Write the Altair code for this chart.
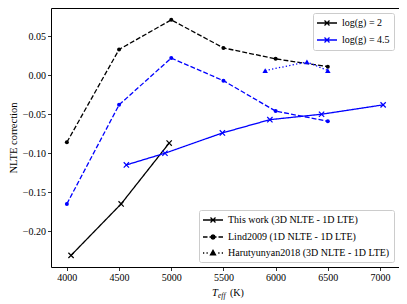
import altair as alt
import pandas as pd

# ---------------- data ----------------
this_T_g2 = [4040, 4520, 4980]
this_c_g2 = [-0.231, -0.165, -0.087]
this_T_g45 = [4570, 4940, 5490, 5945, 6440, 7030]
this_c_g45 = [-0.115, -0.100, -0.074, -0.057, -0.050, -0.038]

lind_T = [4000, 4500, 5000, 5500, 6000, 6500]
lind_c_g2 = [-0.086, 0.033, 0.071, 0.035, 0.021, 0.011]
lind_c_g45 = [-0.165, -0.038, 0.022, -0.007, -0.046, -0.059]

har_T_g45 = [5900, 6300, 6500]
har_c_g45 = [0.006, 0.017, 0.006]

G = ["log(g) = 2", "log(g) = 4.5"]
M = ["This work (3D NLTE - 1D LTE)", "Lind2009 (1D NLTE - 1D LTE)",
     "Harutyunyan2018 (3D NLTE - 1D LTE)"]

x_ticks = [4000, 4500, 5000, 5500, 6000, 6500, 7000]
y_ticks = [-0.20, -0.15, -0.10, -0.05, 0.00, 0.05]

rows = []
def add(T, c, g, m):
    for t, v in zip(T, c):
        rows.append({"T": t, "corr": v, "logg": g, "method": m, "source": m})

add(this_T_g2, this_c_g2, G[0], M[0])
add(this_T_g45, this_c_g45, G[1], M[0])
add(lind_T, lind_c_g2, G[0], M[1])
add(lind_T, lind_c_g45, G[1], M[1])
add(har_T_g45, har_c_g45, G[1], M[2])
df = pd.DataFrame(rows)

FONT = "Liberation Serif"
W, H = 348, 259

x = alt.X("T:Q", scale=alt.Scale(domain=[3848, 7182], nice=False, zero=False),
          axis=alt.Axis(values=x_ticks, format="d", title=None))
y = alt.Y("corr:Q", scale=alt.Scale(domain=[-0.2459, 0.0862], nice=False, zero=False),
          axis=alt.Axis(values=y_ticks, format=".2f", title="NLTE correction",
                        titleFont=FONT, titleFontSize=10.5, titleFontWeight="normal",
                        titlePadding=4))

X_PATH = "M-1,-1L1,1M-1,1L1,-1"
LEG_X = "M-2,0L2,0M-0.5,-0.5L0.5,0.5M-0.5,0.5L0.5,-0.5"
LEG_DASH = ("M-2,0L-1.1,0M-0.7,0L0.7,0M1.1,0L2,0"
            "M0.4,0L0.28,0.28L0,0.4L-0.28,0.28L-0.4,0L-0.28,-0.28L0,-0.4L0.28,-0.28Z")
LEG_DOT = ("M-2,0L-1.75,0M-1.3,0L-1.05,0M1.05,0L1.3,0M1.75,0L2,0"
           "M0,-0.55L0.5,0.35L-0.5,0.35Z")

leg_common = dict(title=None, labelFont=FONT, labelFontSize=10, labelColor="black",
                  labelLimit=0, offset=5,
                  fillColor="rgba(255,255,255,0.85)", strokeColor="#cccccc",
                  cornerRadius=2, padding=4, symbolSize=100,
                  symbolStrokeWidth=1.3, symbolOffset=4, labelOffset=9,
                  rowPadding=5)

color = alt.Color("logg:N", scale=alt.Scale(domain=G, range=["black", "#0000ff"]),
                  legend=alt.Legend(orient="top-right", symbolType=LEG_X,
                                    **leg_common))

DASHES = {M[0]: [1, 0], M[1]: [4.9, 2.1], M[2]: [1.3, 2.2]}

base = alt.Chart(df)

line_layers = [
    base.transform_filter(alt.datum.method == m).mark_line(
        strokeWidth=1.3, strokeDash=DASHES[m]
    ).encode(x=x, y=y, color=color)
    for m in M
]

pts_x = base.transform_filter(alt.datum.method == M[0]).mark_point(
    shape=X_PATH, filled=False, size=28, strokeWidth=1.2, opacity=1
).encode(x=x, y=y, color=color)

pts_o = base.transform_filter(alt.datum.method == M[1]).mark_circle(
    size=16, opacity=1
).encode(x=x, y=y, color=color)

pts_t = base.transform_filter(alt.datum.method == M[2]).mark_point(
    shape="triangle-up", filled=True, size=30, opacity=1
).encode(x=x, y=y, color=color)

method_leg = base.mark_point(
    filled=True, fill="black", stroke="black", strokeWidth=1.3, opacity=0
).encode(
    x=x, y=y,
    shape=alt.Shape("source:N",
                    scale=alt.Scale(domain=M, range=[LEG_X, LEG_DASH, LEG_DOT]),
                    legend=alt.Legend(orient="bottom-right", symbolOpacity=1,
                                      **leg_common)),
)

# x axis title: T_eff (K)
tdf = pd.DataFrame({"a": [0]})
t1 = alt.Chart(tdf).mark_text(text="T", font=FONT, fontSize=10.5, fontStyle="italic",
                              align="left", baseline="alphabetic", color="black"
                              ).encode(x=alt.value(161), y=alt.value(H + 29))
t2 = alt.Chart(tdf).mark_text(text="eff", font=FONT, fontSize=7.5, fontStyle="italic",
                              align="left", baseline="alphabetic", color="black"
                              ).encode(x=alt.value(167), y=alt.value(H + 31))
t3 = alt.Chart(tdf).mark_text(text="(K)", font=FONT, fontSize=10,
                              align="left", baseline="alphabetic", color="black"
                              ).encode(x=alt.value(179), y=alt.value(H + 29))

chart = alt.layer(*line_layers, pts_x, pts_o, pts_t, method_leg, t1, t2, t3).properties(
    width=W, height=H,
    autosize=alt.AutoSizeParams(type="none"),
    padding={"left": 43, "top": 0, "right": 0, "bottom": 36},
).configure_view(
    stroke="black", strokeWidth=1
).configure_axis(
    domain=False, grid=False, tickColor="black", tickSize=3.5, tickWidth=0.8,
    labelFont=FONT, labelFontSize=10, labelColor="black", labelPadding=2,
    titleColor="black",
)

chart.save("out.html", embed_options={"renderer": "svg", "actions": False})
